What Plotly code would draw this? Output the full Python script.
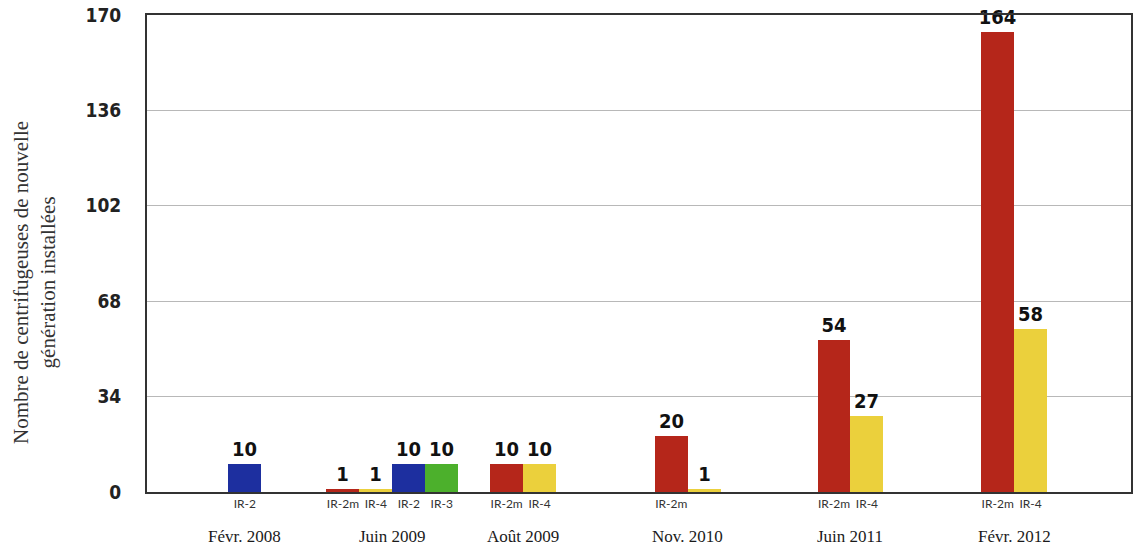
import plotly.graph_objects as go

# ---- data ----
dates = ["Févr. 2008", "Juin 2009", "Août 2009", "Nov. 2010", "Juin 2011", "Févr. 2012"]
models = [["IR-2"], ["IR-2m", "IR-4", "IR-2", "IR-3"], ["IR-2m", "IR-4"],
          ["IR-2m", "IR-4"], ["IR-2m", "IR-4"], ["IR-2m", "IR-4"]]
values = [[10], [1, 1, 10, 10], [10, 10], [20, 1], [54, 27], [164, 58]]
sublabels = [["IR-2"], ["IR-2m", "IR-4", "IR-2", "IR-3"], ["IR-2m", "IR-4"],
             ["IR-2m", ""], ["IR-2m", "IR-4"], ["IR-2m", "IR-4"]]
y_ticks = [0, 34, 68, 102, 136, 170]
y_title = "Nombre de centrifugeuses de nouvelle<br>génération installées"

# ---- layout / style ----
group_centres = [2.97, 7.45, 11.42, 16.42, 21.36, 26.33]
colors = {"IR-2": "#1d2f9f", "IR-3": "#4cb02c", "IR-2m": "#b5261a", "IR-4": "#ebd03c"}
num_font = "DejaVu Sans Condensed, Liberation Sans, sans-serif"
serif = "Liberation Serif, Times New Roman, serif"

xs, ys, cols, txt, ticks_x, ticks_t = [], [], [], [], [], []
for gc, ms, vs, ls in zip(group_centres, models, values, sublabels):
    n = len(vs)
    for i, (m, v, l) in enumerate(zip(ms, vs, ls)):
        x = gc + (i - (n - 1) / 2)
        xs.append(x)
        ys.append(v)
        cols.append(colors[m])
        txt.append(str(v))
        ticks_x.append(x)
        ticks_t.append(l)

fig = go.Figure(go.Bar(
    x=xs, y=ys, width=1.0,
    marker=dict(color=cols, line=dict(width=0)),
    text=txt, textposition="outside", constraintext="none", cliponaxis=False,
    textfont=dict(family=num_font, size=20, color="#111", weight="bold"),
    hoverinfo="skip",
))

for gc, d in zip(group_centres, dates):
    fig.add_annotation(x=gc, xref="x", y=-0.094, yref="paper", text=d,
                       showarrow=False, yanchor="middle",
                       font=dict(family=serif, size=17, color="#1a1a1a"))

fig.add_annotation(x=-0.115, xref="paper", y=0.44, yref="paper", text=y_title,
                   textangle=-90, showarrow=False, xanchor="center", yanchor="middle",
                   font=dict(family=serif, size=21, color="#333"))

fig.update_layout(
    width=1137, height=552,
    margin=dict(l=147, r=4, t=14, b=60),
    paper_bgcolor="white", plot_bgcolor="white",
    showlegend=False, bargap=0,
    xaxis=dict(range=[0, 986 / 33], tickvals=ticks_x, ticktext=ticks_t,
               showgrid=False, zeroline=False, showline=True, mirror=True,
               linecolor="#333", linewidth=2, ticks="",
               tickfont=dict(family="Lato, sans-serif", size=12, color="#333")),
    yaxis=dict(range=[0, 170], tickvals=y_ticks, ticktext=[str(t) for t in y_ticks],
               showgrid=True, gridcolor="#b8b8b8", gridwidth=1, zeroline=False,
               showline=True, mirror=True, linecolor="#333", linewidth=2,
               ticks="outside", ticklen=20, tickcolor="rgba(0,0,0,0)",
               tickfont=dict(family=num_font, size=19, color="#222", weight="bold")),
)

fig.write_html("out.html")
